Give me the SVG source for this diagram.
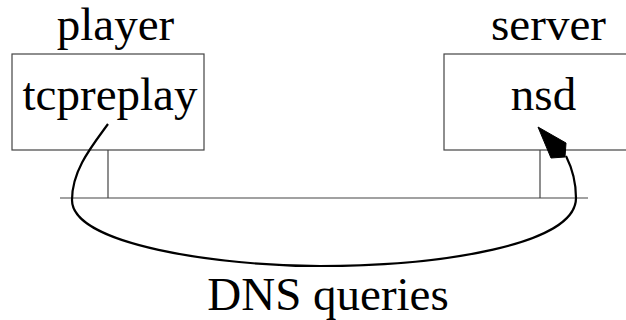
<svg xmlns="http://www.w3.org/2000/svg" width="626" height="320" viewBox="0 0 626 320">
<style>
.box{fill:#fff;stroke:#444;stroke-width:1.2}
.wire{fill:none;stroke:#444;stroke-width:1.2}
.t{font-family:"Liberation Serif","Times New Roman",serif;font-size:47px;fill:#000;text-anchor:middle}
.flow{fill:none;stroke:#000;stroke-width:2.2}
</style>
<rect width="626" height="320" fill="#fff"/>
<g id="network">
<line class="wire" x1="60" y1="198" x2="588" y2="198"/>
<line class="wire" x1="108" y1="150" x2="108" y2="198"/>
<line class="wire" x1="540" y1="150" x2="540" y2="198"/>
</g>
<g id="player">
<text class="t" x="115.5" y="40">player</text>
<rect class="box" x="12" y="54" width="192" height="96"/>
<text class="t" x="110" y="110">tcpreplay</text>
</g>
<g id="server">
<text class="t" x="548.5" y="40">server</text>
<rect class="box" x="444" y="54" width="192" height="96"/>
<text class="t" x="543.5" y="110">nsd</text>
</g>
<g id="connectors">
<path class="flow" d="M108,124 C92,146 72,170 72,200 C72,245 220,266 320,266 C440,266 576,245 576,198 C576,180 572,168 566,156"/>
<polygon points="538,127 566,143 565,157 551,158" fill="#000" stroke="#000" stroke-width="1"/>
</g>
<text class="t" x="328" y="310">DNS queries</text>
</svg>
